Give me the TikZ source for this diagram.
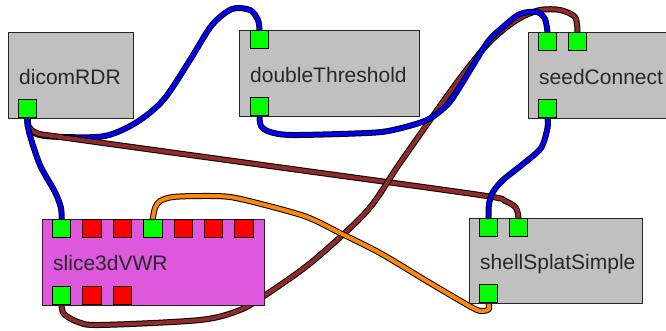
\documentclass[tikz,border=0pt]{standalone}
\usepackage{fontspec}
\setmainfont{Liberation Sans}
\definecolor{cblue}{RGB}{0,0,240}
\definecolor{cbrown}{RGB}{145,42,42}
\definecolor{corange}{RGB}{255,135,10}
\definecolor{cgreen}{RGB}{0,255,0}
\definecolor{cred}{RGB}{255,0,0}
\definecolor{cgray}{RGB}{192,192,192}
\definecolor{cmag}{RGB}{221,88,221}
\definecolor{ctext}{RGB}{40,40,40}
\pgfdeclarelayer{bg}
\pgfdeclarelayer{wires}
\pgfsetlayers{bg,wires,main}
\begin{document}
\begin{tikzpicture}[x=1pt,y=-1pt,
  box/.style={draw=black!85, line width=0.8pt, fill=#1, inner sep=0pt, outer sep=0pt},
  port/.style={draw=black, fill=#1, line width=0.7pt, minimum size=18.5pt, inner sep=0pt, outer sep=0pt},
  lbl/.style={anchor=base west, inner sep=0pt, font=\fontsize{21}{24}\selectfont, text=ctext},
  wire/.style={draw=black, line width=1pt, double=#1, double distance=4pt, line cap=round, line join=round}]
\useasboundingbox (0,0) rectangle (666,330);
\clip (0,0) rectangle (666,330);
\begin{pgfonlayer}{bg}
\fill[white] (0,0) rectangle (666,330);
\end{pgfonlayer}
% boxes
\node[box=cgray, minimum width=125pt, minimum height=86pt] (dicom) at (70.5,75) {};
\node[box=cgray, minimum width=180pt, minimum height=86pt] (thr) at (329,73) {};
\node[box=cgray, minimum width=180pt, minimum height=86pt] (seed) at (618,75) {};
\node[box=cmag, minimum width=222pt, minimum height=86pt] (slice) at (153,262) {};
\node[box=cgray, minimum width=173pt, minimum height=85pt] (shell) at (555.5,260.5) {};
% labels
\node[lbl] (dicom-l) at (19,84) {dicomRDR};
\node[lbl] (thr-l) at (250,82) {doubleThreshold};
\node[lbl] (seed-l) at (539,84) {seedConnect};
\node[lbl] (slice-l) at (53,270.5) {slice3dVWR};
\node[lbl] (shell-l) at (480,269) {shellSplatSimple};
% ports
\node[port=cgreen] (d-o) at (27.5,108.5) {};
\node[port=cgreen] (t-i) at (259.5,39.5) {};
\node[port=cgreen] (t-o) at (259.5,106.5) {};
\node[port=cgreen] (sc-i1) at (547.5,41.5) {};
\node[port=cgreen] (sc-i2) at (577.5,41.5) {};
\node[port=cgreen] (sc-o) at (547.5,108.5) {};
\node[port=cgreen] (s-i1) at (61.5,228.5) {};
\node[port=cred] (s-i2) at (91.9,228.5) {};
\node[port=cred] (s-i3) at (122.3,228.5) {};
\node[port=cgreen] (s-i4) at (152.7,228.5) {};
\node[port=cred] (s-i5) at (183.1,228.5) {};
\node[port=cred] (s-i6) at (213.5,228.5) {};
\node[port=cred] (s-i7) at (243.9,228.5) {};
\node[port=cgreen] (s-o1) at (61.5,295.5) {};
\node[port=cred] (s-o2) at (91.9,295.5) {};
\node[port=cred] (s-o3) at (122.3,295.5) {};
\node[port=cgreen] (sh-i1) at (488.5,227.5) {};
\node[port=cgreen] (sh-i2) at (518.5,227.5) {};
\node[port=cgreen] (sh-o) at (488.5,293.5) {};
% wires
\begin{pgfonlayer}{wires}
\draw[wire=cblue] plot[smooth] coordinates {(d-o.south) (29,129) (45,136) (97,137) (120,131) (143,118) (165,98) (190,60) (212,25) (232,9) (250,10) (258,20) (t-i.north)};
\draw[wire=cbrown] plot[smooth] coordinates {(d-o.south) (29,127) (37,133) (60,137) (270,166) (480,195) (505,201) (516,208) (sh-i2.north)};
\draw[wire=cblue] plot[smooth] coordinates {(d-o.south) (29,132) (40,165) (55,192) (61,208) (s-i1.north)};
\draw[wire=cbrown] plot[smooth] coordinates {(s-o1.south) (64,314) (78,322) (100,325) (200,320) (240,310) (267,294) (313,261) (367,211) (400,163) (455,85) (485,47) (503,30) (520,18) (540,10) (560,10) (575,17) (sc-i2.north)};
\draw[wire=cblue] plot[smooth] coordinates {(t-o.south) (261,126) (270,132) (293,135) (367,133) (393,130) (427,120) (448,104) (461,85) (487,43) (503,27) (520,14) (537,12) (545,19) (sc-i1.north)};
\draw[wire=corange] plot[smooth] coordinates {(sh-o.south) (489,309) (483,311) (473,308) (430,283) (380,253) (340,233) (307,217) (265,205) (230,197) (200,196) (173,197) (160,201) (155,208) (s-i4.north)};
\draw[wire=cblue] plot[smooth] coordinates {(sc-o.south) (547.5,128) (541,148) (523,164) (503,180) (493,192) (489,204) (sh-i1.north)};
\end{pgfonlayer}
\end{tikzpicture}
\end{document}
